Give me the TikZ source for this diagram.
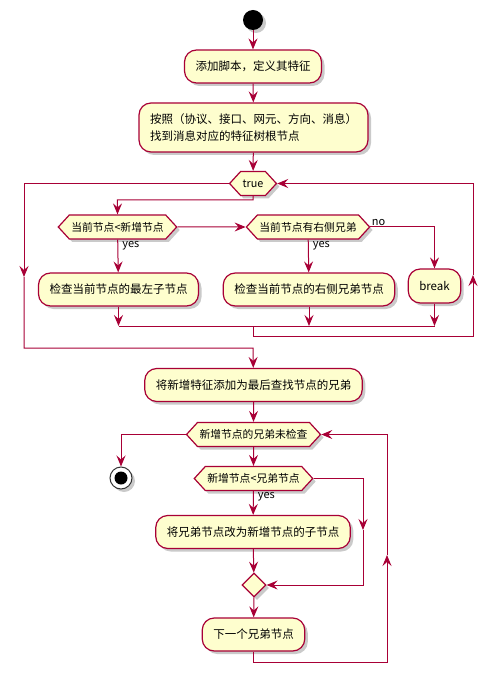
\documentclass[tikz,border=0pt]{standalone}
\usepackage{fontspec}
\setmainfont{Noto Sans CJK SC}
\usetikzlibrary{arrows.meta,shapes.geometric,shapes.symbols,shadows}
\definecolor{umlred}{HTML}{A80036}
\definecolor{umlfill}{HTML}{FEFECE}
\begin{document}
\begin{tikzpicture}[x=1pt,y=-1pt,>={Stealth[length=11pt,width=9pt,inset=4pt]}]
\tikzstyle{shade}=[drop shadow={shadow xshift=3pt,shadow yshift=-3pt,opacity=0.35,fill=black!60}]
\tikzstyle{act}=[rectangle,rounded corners=12pt,draw=umlred,fill=umlfill,line width=1.2pt,minimum height=33pt,inner xsep=11pt,font=\fontsize{11.5}{17}\selectfont,shade]
\tikzstyle{hex}=[signal,signal to=east and west,signal pointer angle=95,draw=umlred,fill=umlfill,line width=1.2pt,minimum height=24pt,inner xsep=2pt,inner ysep=0pt,font=\fontsize{10.8}{13}\selectfont,shade]
\tikzstyle{merge}=[diamond,draw=umlred,fill=umlfill,line width=1.2pt,minimum size=24pt,inner sep=0pt,shade]
\tikzstyle{flow}=[draw=umlred,line width=1pt]
\tikzstyle{lbl}=[font=\fontsize{11}{13}\selectfont,inner sep=1pt]
\path[use as bounding box] (0,0) rectangle (498,684);
\node [circle,fill=black,minimum size=20pt,inner sep=0pt,shade] (start) at (253,20) {};
\node [act] (addscript) at (253,66.5) {添加脚本，定义其特征};
\node [act,align=left,minimum height=49pt] (findroot) at (253.5,127.5) {按照（协议、接口、网元、方向、消息）\\找到消息对应的特征树根节点};
\node [hex] (loop) at (253,183.5) {true};
\node [hex] (cmp1) at (117.5,227) {当前节点<新增节点};
\node [hex] (cmp2) at (308,227) {当前节点有右侧兄弟};
\node [act] (leftchild) at (118.5,289.5) {检查当前节点的最左子节点};
\node [act] (rightsib) at (309,289.5) {检查当前节点的右侧兄弟节点};
\node [act,minimum height=34pt] (brk) at (434.5,286) {break};
\node [act] (addsib) at (253.5,385) {将新增特征添加为最后查找节点的兄弟};
\node [hex] (sibloop) at (253.5,434.5) {新增节点的兄弟未检查};
\node [circle,draw=black!80,fill=white,line width=1pt,minimum size=22pt,inner sep=0pt,shade] (stop) at (121,478) {};
\node [circle,fill=black,minimum size=13pt,inner sep=0pt] (stopdot) at (stop) {};
\node [hex] (cmp3) at (253.5,478.5) {新增节点<兄弟节点};
\node [act] (tochild) at (253,532) {将兄弟节点改为新增节点的子节点};
\node [merge] (join) at (254,585) {};
\node [act] (nextsib) at (253.5,634.5) {下一个兄弟节点};
\coordinate (exitmid) at (24,277);
\coordinate (exitjoin) at (253,348);
\coordinate (bodysplit) at (253,200);
\coordinate (innerL) at (118.5,326);
\coordinate (innerM) at (309,326);
\coordinate (innerR) at (434.5,326);
\coordinate (innerC) at (253,326);
\coordinate (backlow) at (253,336);
\coordinate (backR) at (473,275);
\coordinate (skipmid) at (363,530);
\coordinate (siblow) at (253.5,662);
\coordinate (sibback) at (387,555);
\draw [flow,->] (start) -- (addscript);
\draw [flow,->] (addscript) -- (findroot);
\draw [flow,->] (findroot) -- (loop);
\draw [flow,->] (loop) -| (exitmid);
\draw [flow,->] (exitmid) |- (exitjoin) -- (addsib);
\draw [flow,->] (loop) -- (bodysplit) -| (cmp1);
\draw [flow,->] (cmp1) -- (cmp2);
\draw [flow,->] (cmp1) -- node[lbl,pos=0.2,anchor=west,xshift=3pt] {yes} (leftchild);
\draw [flow,->] (cmp2) -- node[lbl,pos=0.2,anchor=west,xshift=3pt] {yes} (rightsib);
\draw [flow,->] (cmp2) -| node[lbl,at start,anchor=south west] {no} (brk);
\draw [flow,->] (leftchild) -- (innerL);
\draw [flow,->] (rightsib) -- (innerM);
\draw [flow,->] (brk) -- (innerR);
\draw [flow] (innerL) -- (innerR);
\draw [flow,->] (innerC) -- (backlow) -| (backR);
\draw [flow,->] (backR) |- (loop);
\draw [flow,->] (addsib) -- (sibloop);
\draw [flow,->] (sibloop) -| (stop);
\draw [flow,->] (sibloop) -- (cmp3);
\draw [flow,->] (cmp3) -- node[lbl,pos=0.25,anchor=west,xshift=3pt] {yes} (tochild);
\draw [flow,->] (cmp3) -| (skipmid);
\draw [flow,->] (skipmid) |- (join);
\draw [flow,->] (tochild) -- (join);
\draw [flow,->] (join) -- (nextsib);
\draw [flow,->] (nextsib) -- (siblow) -| (sibback);
\draw [flow,->] (sibback) |- (sibloop);
\end{tikzpicture}
\end{document}
